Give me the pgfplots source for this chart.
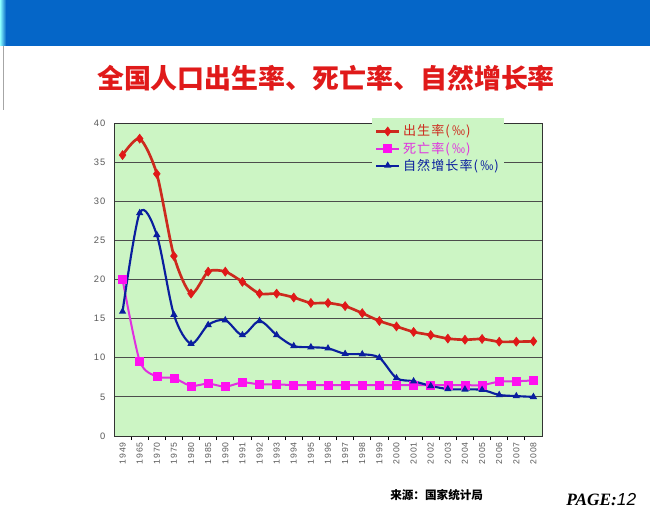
\documentclass[border=0pt]{standalone}
\usepackage{pgfplots}
\pgfplotsset{compat=1.18}
\usepackage{pgfplotstable}
\usepackage{fontspec}
\setmainfont{Liberation Sans}
\newfontfamily\cjk{Noto Sans CJK SC}
\newfontfamily\cjkls[LetterSpace=8]{Noto Sans CJK SC}
\newfontfamily\serif{Liberation Serif}
\newfontfamily\tickfont[LetterSpace=12]{Liberation Sans}
\definecolor{hdrblue}{HTML}{0566C8}
\definecolor{titlered}{HTML}{E01A1A}
\definecolor{plotbg}{HTML}{CCF5C4}
\definecolor{redline}{HTML}{CC2A1E}
\definecolor{redmark}{HTML}{E01818}
\definecolor{magline}{HTML}{E030E0}
\definecolor{magmark}{HTML}{FF10F0}
\definecolor{blueline}{HTML}{0A1E9E}

\pgfplotstableread{
idx birth death growth
0  35.9  20.0  15.9
1  38.0  9.6   28.5
2  33.5  7.6   25.7
3  23.0  7.4   15.5
4  18.2  6.4   11.8
5  21.0  6.7   14.2
6  21.0  6.3   14.8
7  19.7  6.85  12.9
8  18.2  6.6   14.7
9  18.2  6.6   12.9
10 17.7  6.5   11.5
11 17.0  6.5   11.35
12 17.0  6.5   11.2
13 16.6  6.5   10.5
14 15.7  6.5   10.45
15 14.7  6.5   10.0
16 14.0  6.5   7.4
17 13.3  6.5   7.0
18 12.9  6.5   6.4
19 12.45 6.5   6.0
20 12.3  6.5   5.95
21 12.4  6.5   5.9
22 12.05 6.95  5.25
23 12.05 7.0   5.1
24 12.1  7.1   5.0
}\datatable

\begin{document}
\begin{tikzpicture}
\begin{scope}[x=0.75pt,y=0.75pt]
\fill[white] (0,0) rectangle (650,522);
\fill[hdrblue] (3,476) rectangle (650,522);
\shade[left color=cyan!45, right color=hdrblue] (0,476) rectangle (6,522);
\draw[gray!70, line width=0.6pt] (3,412) -- (3,476);
\node[text=titlered, font=\cjk\bfseries\fontsize{20.2}{24}\selectfont] at (326,444) {全国人口出生率、死亡率、自然增长率};
\node[anchor=west, font=\cjk\bfseries\fontsize{8.7}{10}\selectfont, inner sep=0pt] at (390,27) {来源：国家统计局};
\node[anchor=west, inner sep=0pt] at (566,22) {\fontsize{13}{15}\selectfont{\serif\bfseries\itshape PAGE:}{\itshape 12}};
\end{scope}
\begin{axis}[
  at={(85.5pt,64.5pt)}, anchor=south west,
  width=321pt, height=234.75pt, scale only axis,
  xmin=-0.5, xmax=24.5, ymin=0, ymax=40,
  ytick={0,5,...,40},
  xtick={0,...,24},
  xticklabels={1949,1965,1970,1975,1980,1985,1990,1991,1992,1993,1994,1995,1996,1997,1998,1999,2000,2001,2002,2003,2004,2005,2006,2007,2008},
  minor xtick={0.5,1.5,...,23.5},
  xtick pos=bottom, ytick pos=left,
  major tick length=0pt, minor tick length=3pt, tick align=outside,
  minor tick style={black, line width=0.6pt},
  axis background/.style={fill=plotbg},
  ymajorgrids, grid style={black!70, line width=0.6pt},
  axis line style={black!80, line width=0.6pt},
  /pgf/number format/assume math mode=true,
  yticklabel style={font=\tickfont\fontsize{7}{8}\selectfont, text=black!65, xshift=-3pt},
  xticklabel style={font=\tickfont\fontsize{6.5}{8}\selectfont, text=black!65, rotate=90, anchor=east, inner sep=1pt},
  xticklabel shift=3.5pt,
  legend style={at={(0.603,1.016)}, anchor=north west, fill=plotbg, draw=none,
    font=\cjkls\fontsize{9.8}{11}\selectfont, inner xsep=2pt, inner ysep=3pt, row sep=-1pt},
  legend cell align=left,
]
\addplot[color=redline, line width=2pt, smooth, tension=0.45, mark=diamond*, mark size=3.4pt,
  mark options={fill=redmark, draw=redmark, line width=0.4pt}] table[x=idx,y=birth]{\datatable};
\addlegendentry{\textcolor{redline}{出生率(\,‰)}}
\addplot[color=magline, line width=1.5pt, smooth, tension=0.45, mark=square*, mark size=3pt,
  mark options={fill=magmark, draw=magmark, line width=0.4pt}] table[x=idx,y=death]{\datatable};
\addlegendentry{\textcolor{magline}{死亡率(\,‰)}}
\addplot[color=blueline, line width=1.6pt, smooth, tension=0.5, mark=triangle*, mark size=1.6pt,
  mark options={fill=blueline, draw=blueline}] table[x=idx,y=growth]{\datatable};
\addlegendentry{\textcolor{blueline}{自然增长率(\,‰)}}
\end{axis}
\end{tikzpicture}
\end{document}
